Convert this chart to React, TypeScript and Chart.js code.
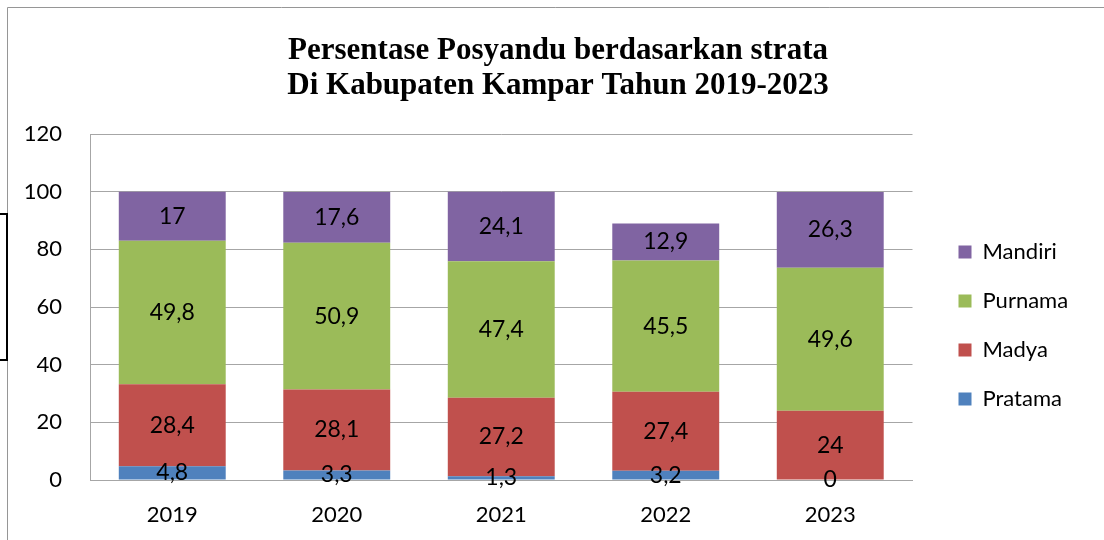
import React, { useEffect, useRef } from 'react';
import { Chart, registerables, layouts } from 'chart.js';

Chart.register(...registerables);

const categories = ['2019', '2020', '2021', '2022', '2023'];
const seriesNames = ['Pratama', 'Madya', 'Purnama', 'Mandiri'];
const pratama = [4.8, 3.3, 1.3, 3.2, 0];
const madya = [28.4, 28.1, 27.2, 27.4, 24];
const purnama = [49.8, 50.9, 47.4, 45.5, 49.6];
const mandiri = [17, 17.6, 24.1, 12.9, 26.3];
const seriesColors = ['#4F81BD', '#C0504D', '#9BBB59', '#8064A2'];
const yTicks = [0, 20, 40, 60, 80, 100, 120];
const titleLines = ['Persentase Posyandu berdasarkan strata', 'Di Kabupaten Kampar Tahun 2019-2023'];

const W = 1104;
const H = 540;
const PAD_L = 12;
const INNER_SPACER = 19;
const OUTER_SPACER = 36;
const GRID = '#a6a6a6';

function makeSpacer(width: number, weight: number) {
  return {
    position: 'right',
    weight,
    fullSize: false,
    options: {},
    left: 0, top: 0, right: 0, bottom: 0, width: 0, height: 0,
    isHorizontal() { return false; },
    update(maxWidth: number, maxHeight: number) { (this as any).width = width; (this as any).height = maxHeight; },
    draw() {},
    getPadding() { return { left: 0, right: 0, top: 0, bottom: 0 }; },
  };
}

const spacerPlugin = {
  id: 'legendSpacer',
  beforeInit(chart: any) {
    layouts.addBox(chart, makeSpacer(INNER_SPACER, 0) as any);
    layouts.addBox(chart, makeSpacer(OUTER_SPACER, 3000) as any);
  },
};

const framePlugin = {
  id: 'frame',
  afterDraw(chart: any) {
    const ctx = chart.ctx;
    ctx.save();
    ctx.strokeStyle = '#969696';
    ctx.lineWidth = 1;
    ctx.beginPath();
    ctx.moveTo(7.5, H);
    ctx.lineTo(7.5, 7.5);
    ctx.lineTo(W, 7.5);
    ctx.stroke();
    ctx.strokeStyle = '#000';
    ctx.lineWidth = 2;
    ctx.beginPath();
    ctx.moveTo(0, 214);
    ctx.lineTo(7, 214);
    ctx.lineTo(7, 360);
    ctx.lineTo(0, 360);
    ctx.stroke();
    ctx.restore();
  },
};

const labelPlugin = {
  id: 'valueLabels',
  afterDatasetsDraw(chart: any) {
    const ctx = chart.ctx;
    ctx.save();
    ctx.font = '23px Lato';
    ctx.fillStyle = '#000';
    ctx.textAlign = 'center';
    ctx.textBaseline = 'middle';
    chart.data.datasets.forEach((ds: any, di: number) => {
      const meta = chart.getDatasetMeta(di);
      meta.data.forEach((el: any, i: number) => {
        const v = ds.data[i];
        const y = (el.y + el.base) / 2;
        ctx.fillText(String(v).replace('.', ','), el.x, y);
      });
    });
    ctx.restore();
  },
};

export default function App() {
  const ref = useRef<HTMLCanvasElement>(null);
  useEffect(() => {
    document.body.style.margin = '0';
    Chart.defaults.font.family = 'Lato';
    const values = [pratama, madya, purnama, mandiri];
    const chart = new Chart(ref.current!, {
      type: 'bar',
      data: {
        labels: categories,
        datasets: seriesNames.map((name, i) => ({
          label: name,
          data: values[i],
          backgroundColor: seriesColors[i],
          borderWidth: 0,
          categoryPercentage: 1,
          barPercentage: 0.65,
        })),
      },
      options: {
        responsive: false,
        animation: false,
        layout: { padding: { left: PAD_L, right: 0, top: 0, bottom: 0 } },
        plugins: {
          title: {
            display: true,
            text: titleLines,
            color: '#000',
            font: { family: 'Liberation Serif', size: 31, weight: 'bold', lineHeight: 35 / 31 },
            padding: { top: 33, bottom: 31 },
          },
          legend: {
            position: 'right',
            fullSize: false,
            reverse: true,
            title: { display: true, text: ' ', font: { size: 20 }, padding: { top: 6, bottom: 7 } },
            labels: {
              color: '#000',
              font: { size: 22, family: 'Lato' },
              boxWidth: 13,
              boxHeight: 13,
              padding: 27,
            },
          },
          tooltip: { enabled: false },
        },
        scales: {
          x: {
            stacked: true,
            grid: { display: false, drawTicks: false },
            border: { display: true, color: GRID },
            ticks: { color: '#000', font: { size: 22 }, padding: 22 },
            afterFit(scale: any) { scale.height = 60; },
          },
          y: {
            stacked: true,
            min: yTicks[0],
            max: yTicks[yTicks.length - 1],
            ticks: { stepSize: yTicks[1] - yTicks[0], color: '#000', font: { size: 22 }, padding: 28 },
            grid: { color: GRID, drawTicks: false },
            border: { display: true, color: GRID },
            afterFit(scale: any) { scale.width = 90 - PAD_L; },
          },
        },
      },
      plugins: [spacerPlugin, labelPlugin, framePlugin],
    } as any);
    return () => chart.destroy();
  }, []);
  return (
    <div style={{ width: W, height: H, background: '#fff' }}>
      <canvas ref={ref} width={W} height={H} style={{ display: 'block' }} />
    </div>
  );
}
